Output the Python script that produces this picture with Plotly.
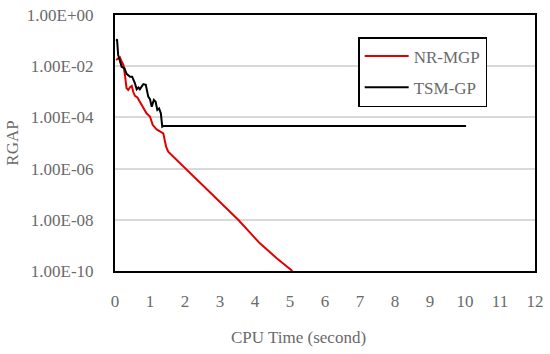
import plotly.graph_objects as go

# NR-MGP (red)
nr_x = [0.03, 0.10, 0.14, 0.19, 0.24, 0.29, 0.33, 0.38, 0.43, 0.48, 0.52, 0.57, 0.64, 0.71,
        0.81, 0.90, 1.00, 1.08, 1.19, 1.29, 1.38, 1.43, 1.46, 1.52, 2.05, 2.67, 3.52, 4.14,
        4.62, 5.07]
nr_exp = [-1.76, -1.69, -1.65, -1.82, -1.95, -2.41, -2.86, -2.93, -2.82, -2.77, -3.00, -3.16,
          -3.22, -3.39, -3.65, -3.84, -3.97, -4.30, -4.47, -4.56, -4.62, -4.95, -5.14, -5.34,
          -6.05, -6.90, -8.00, -8.92, -9.50, -10.0]

# TSM-GP (black)
tsm_x = [0.03, 0.06, 0.09, 0.14, 0.19, 0.27, 0.33, 0.43, 0.49, 0.57, 0.62, 0.67, 0.71, 0.76,
         0.81, 0.88, 0.95, 1.00, 1.05, 1.11, 1.16, 1.21, 1.26, 1.31, 1.35, 1.38, 10.03]
tsm_exp = [-0.95, -0.98, -1.56, -1.82, -2.02, -2.08, -2.30, -2.41, -2.41, -2.67, -2.90, -2.83,
           -2.90, -2.80, -2.70, -2.73, -3.19, -3.29, -3.58, -3.32, -3.39, -3.71, -3.65, -3.84,
           -4.36, -4.34, -4.34]

y_tickvals = [1e0, 1e-2, 1e-4, 1e-6, 1e-8, 1e-10]
y_ticktext = ["1.00E+00", "1.00E-02", "1.00E-04", "1.00E-06", "1.00E-08", "1.00E-10"]

nr_y = [10 ** e for e in nr_exp]
tsm_y = [10 ** e for e in tsm_exp]

font_family = "Liberation Serif"
grey = "#6a6a6a"

fig = go.Figure()
fig.add_trace(go.Scatter(x=nr_x, y=nr_y, mode="lines", name="NR-MGP",
                         line=dict(color="#e00000", width=2), legendgroup="a"))
fig.add_trace(go.Scatter(x=tsm_x, y=tsm_y, mode="lines", name="TSM-GP",
                         line=dict(color="black", width=2), legendgroup="b"))

fig.update_layout(
    width=550, height=354,
    margin=dict(l=115, r=15, t=15, b=83, autoexpand=False),
    paper_bgcolor="white", plot_bgcolor="white",
    font=dict(family=font_family, color=grey, size=17),
    showlegend=True,
    legend=dict(x=0.579, y=0.914, xanchor="left", yanchor="top",
                bordercolor="black", borderwidth=1.5, bgcolor="white",
                font=dict(size=17, color=grey), tracegroupgap=6,
                itemwidth=44),
    xaxis=dict(range=[0, 12], dtick=1, tick0=0, showgrid=False, zeroline=False,
               showline=True, linecolor="black", linewidth=2, mirror=True,
               ticks="outside", ticklen=14, tickcolor="rgba(0,0,0,0)", automargin=False,
               tickfont=dict(size=17, color=grey)),
    yaxis=dict(type="log", range=[-10, 0], tickvals=y_tickvals, ticktext=y_ticktext,
               showgrid=True, gridcolor="#d9d9d9", gridwidth=1.5, zeroline=False,
               showline=True, linecolor="black", linewidth=2, mirror=True,
               ticks="outside", ticklen=16, tickcolor="rgba(0,0,0,0)", automargin=False,
               tickfont=dict(size=17, color=grey)),
    annotations=[
        dict(text="CPU Time (second)", xref="paper", yref="paper", x=0.436, y=-0.26,
             xanchor="center", yanchor="middle", showarrow=False,
             font=dict(size=17, color=grey)),
        dict(text="RGAP", xref="paper", yref="paper", x=-0.246, y=0.5,
             xanchor="center", yanchor="middle", showarrow=False, textangle=-90,
             font=dict(size=17, color=grey)),
    ],
)

fig.write_html("out.html", config={"displayModeBar": False},
               post_script="document.body.style.margin='0';document.body.style.overflow='hidden';")
